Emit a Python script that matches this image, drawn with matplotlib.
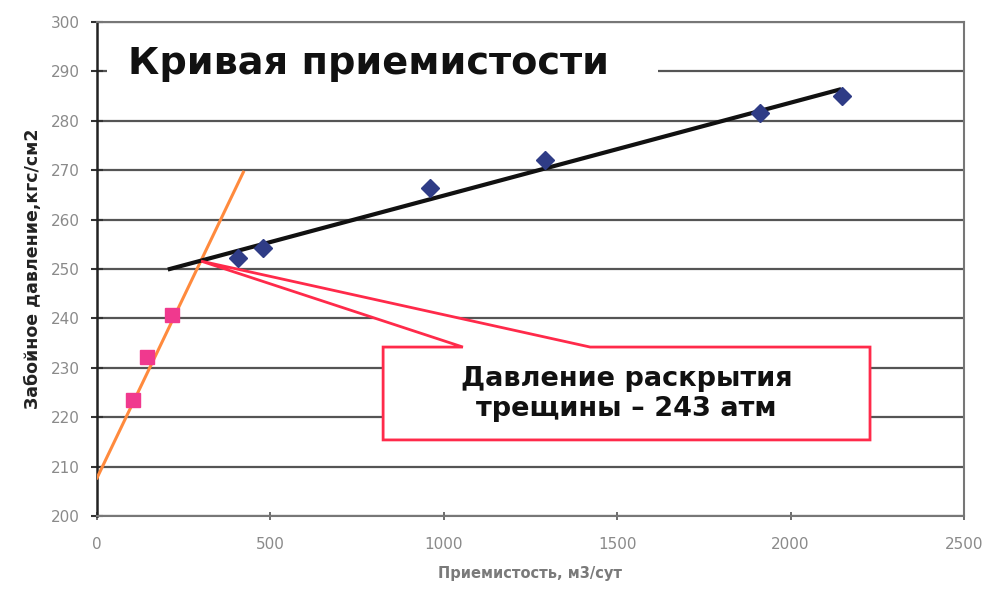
import matplotlib
matplotlib.use("Agg")
import matplotlib.pyplot as plt
from matplotlib.patches import Polygon, Rectangle

# Data
rate_main = [407, 479, 960, 1292, 1912, 2148]          # м3/сут (blue diamonds)
press_main = [252.2, 254.3, 266.4, 272.1, 281.6, 285.0]
rate_low = [104, 144, 216]                               # pink squares
press_low = [223.5, 232.2, 240.7]
trend_main_x = [210, 2140]
trend_main_y = [250.0, 286.3]
trend_low_x = [0, 422]
trend_low_y = [207.7, 269.6]

title = "Кривая приемистости"
callout_text = "Давление раскрытия\nтрещины – 243 атм"
xlabel = "Приемистость, м3/сут"
ylabel = "Забойное давление,кгс/см2"
xticks = [0, 500, 1000, 1500, 2000, 2500]
yticks = [200, 210, 220, 230, 240, 250, 260, 270, 280, 290, 300]

plt.rcParams['font.family'] = ['DejaVu Sans']

fig = plt.figure(figsize=(9.87, 5.89), dpi=100)
ax = fig.add_axes([97/987, 1-516/589, (964-97)/987, (516-22)/589])
ax.set_xlim(0, 2500)
ax.set_ylim(200, 300)

ax.set_yticks(yticks)
ax.set_xticks(xticks)
ax.grid(axis='y', color='#555555', linewidth=1.6, zorder=0)
ax.set_axisbelow(True)

for s in ['top', 'right', 'bottom']:
    ax.spines[s].set_color('#777777')
    ax.spines[s].set_linewidth(1.5)
ax.spines['left'].set_color('#222222')
ax.spines['left'].set_linewidth(1.8)

ax.tick_params(axis='y', direction='inout', length=9, width=1.5, color='#333333',
               labelsize=11, labelcolor='#8a8a8a', pad=8)
ax.tick_params(axis='x', direction='inout', length=6, width=1.2, color='#555555',
               labelsize=11, labelcolor='#8a8a8a', pad=12)

# trend lines
ax.plot(trend_low_x, trend_low_y, color='#FF8A3D', linewidth=2.2, zorder=3)
ax.plot(trend_main_x, trend_main_y, color='#111111', linewidth=3, zorder=4)

# points
ax.plot(rate_main, press_main, linestyle='none', marker='D', markersize=9,
        color='#2F3C86', zorder=5)
ax.plot(rate_low, press_low, linestyle='none', marker='s', markersize=10,
        color='#F0398E', zorder=5)

# title with white background covering gridline
ax.add_patch(Rectangle((0.012, 0.84), 0.635, 0.12, transform=ax.transAxes,
                       facecolor='white', edgecolor='none', zorder=2))
ax.text(0.036, 0.915, title, transform=ax.transAxes, fontsize=27.5,
        fontweight='bold', color='#111111', va='center', ha='left', zorder=6)

# callout
tip = (300, 251.6)
poly = [(825, 234.2), (1055, 234.2), tip, (1422, 234.2), (2229, 234.2),
        (2229, 215.4), (825, 215.4)]
ax.add_patch(Polygon(poly, closed=True, facecolor='white', edgecolor='#FF2A4A',
                     linewidth=2, zorder=6, joinstyle='miter'))
ax.text((825 + 2229) / 2, 224.6, callout_text, ha='center', va='center',
        fontsize=19.5, fontweight='bold', color='#111111', zorder=7,
        linespacing=1.2)

ax.set_xlabel(xlabel, fontsize=10.5, fontweight='bold', color='#7a7a7a', labelpad=10)
ax.set_ylabel(ylabel, fontsize=12.5, fontweight='bold', color='#222222', labelpad=6)

fig.savefig("out.png", dpi=100, facecolor='white')
